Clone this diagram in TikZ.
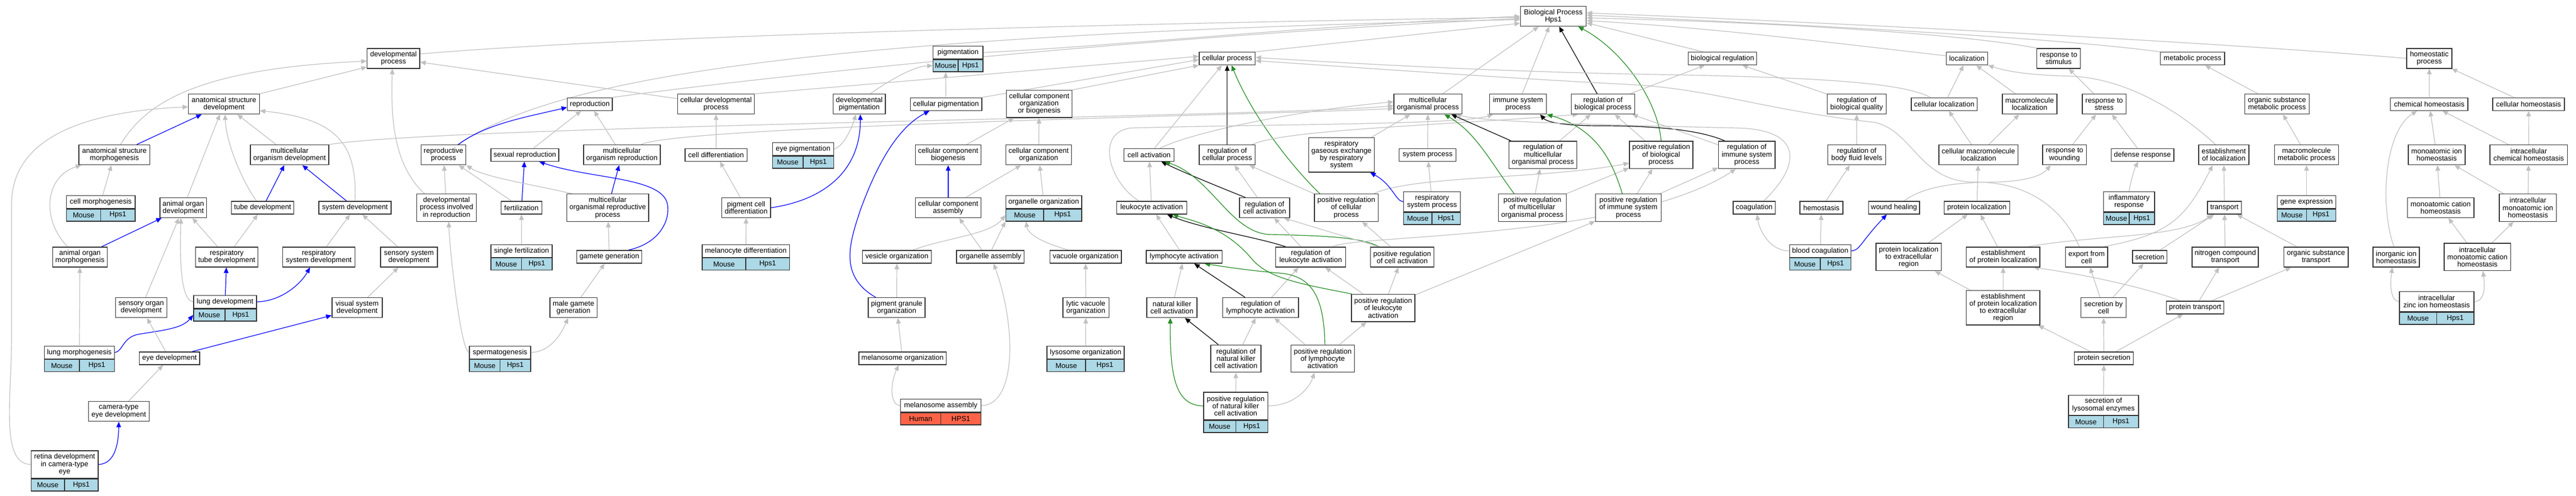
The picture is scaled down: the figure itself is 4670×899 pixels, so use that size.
\documentclass[tikz,border=0pt]{standalone}
\usepackage{fontspec}
\setmainfont{Liberation Sans}
\usetikzlibrary{arrows.meta, positioning, backgrounds}
\definecolor{isagray}{HTML}{C0C0C0}
\definecolor{posgreen}{HTML}{228B22}
\definecolor{mouseblue}{HTML}{ADD8E6}
\definecolor{humanred}{HTML}{FF6347}
\tikzset{
  term/.style={draw=black!80, line width=1.4pt, fill=white, align=center, inner sep=0pt,
    font=\fontsize{13}{13.2}\selectfont},
  h1/.style={minimum height=23pt},
  h2/.style={minimum height=36pt},
  h3/.style={minimum height=49.5pt},
  h4/.style={minimum height=62.5pt},
  gcell/.style={draw=black!80, line width=1.4pt, inner sep=0pt, minimum height=22pt,
    font=\fontsize{13}{13.2}\selectfont},
  isa/.style={draw=isagray, line width=1.2pt, -{Triangle[length=10pt,width=8.5pt]}},
  partof/.style={isa, draw=blue},
  reg/.style={isa, draw=black},
  posreg/.style={isa, draw=posgreen}
}
% term with a species / gene row below it
\newcommand{\gterm}[9]{%
  \node[term,#5,minimum width=#4] (#1) at (#2,#3) {#6};
  \node[gcell,fill=#7,minimum width=#4/2,anchor=north west] (#1-l) at (#1.south west) {#8};
  \node[gcell,fill=#7,minimum width=#4/2,anchor=north east] (#1-r) at (#1.south east) {#9};
}

\begin{document}
\begin{tikzpicture}[x=1pt,y=-1pt]
	\useasboundingbox (0,0) rectangle (4670,899);
	% top
	\node[term,h2,minimum width=119.4] (bp) at (2816,29.5) {Biological Process\\Hps1};
	\node[term,h2,minimum width=95.3] (devproc) at (713.3,105.8) {developmental\\process};
	\gterm{pigm}{1736.9}{95.2}{90.5}{h1}{pigmentation}{mouseblue}{Mouse}{Hps1}
	\node[term,h1,minimum width=101.4] (cellproc) at (2224.7,106.1) {cellular process};
	\node[term,h1,minimum width=124.3] (bioreg) at (3122.6,106.1) {biological regulation};
	\node[term,h1,minimum width=75] (loc) at (3565.7,106.1) {localization};
	\node[term,h2,minimum width=78.8] (respstim) at (3731.8,105.8) {response to\\stimulus};
	\node[term,h1,minimum width=116.4] (metab) at (3974.8,106.1) {metabolic process};
	\node[term,h2,minimum width=81.9] (homeo) at (4404,105.8) {homeostatic\\process};
	% second row
	\node[term,h2,minimum width=128.5] (asdev) at (406,188.7) {anatomical structure\\development};
	\node[term,h1,minimum width=81.5] (repro) at (1069.3,188.7) {reproduction};
	\node[term,h2,minimum width=139.3] (celldevproc) at (1298.1,188.7) {cellular developmental\\process};
	\node[term,h2,minimum width=94.9] (devpigm) at (1557.7,188.7) {developmental\\pigmentation};
	\node[term,h1,minimum width=129.6] (cellpigm) at (1715,188.7) {cellular pigmentation};
	\node[term,h3,minimum width=118.6] (ccob) at (1883.9,188.4) {cellular component\\organization\\or biogenesis};
	\node[term,h2,minimum width=123.2] (mop) at (2588.6,188.7) {multicellular\\organismal process};
	\node[term,h2,minimum width=103.3] (immsys) at (2752,188.7) {immune system\\process};
	\node[term,h2,minimum width=115] (regbp) at (2906,188.7) {regulation of\\biological process};
	\node[term,h2,minimum width=106.8] (regbq) at (3365.9,188.7) {regulation of\\biological quality};
	\node[term,h1,minimum width=119.6] (cellloc) at (3524.7,188.7) {cellular localization};
	\node[term,h2,minimum width=98.7] (macroloc) at (3679.4,188.7) {macromolecule\\localization};
	\node[term,h2,minimum width=79.3] (respstress) at (3814.6,188.7) {response to\\stress};
	\node[term,h2,minimum width=116.9] (osmp) at (4127.9,188.7) {organic substance\\metabolic process};
	\node[term,h1,minimum width=140.4] (chemhom) at (4403.9,188.7) {chemical homeostasis};
	\node[term,h1,minimum width=130.1] (cellhom) at (4584,188.7) {cellular homeostasis};
	% third row
	\node[term,h2,minimum width=128.6] (asmorph) at (207.4,280.7) {anatomical structure\\morphogenesis};
	\node[term,h2,minimum width=142] (mod) at (524.9,280.7) {multicellular\\organism development};
	\node[term,h2,minimum width=81.5] (reproproc) at (804,280.7) {reproductive\\process};
	\node[term,h1,minimum width=122.9] (sexrepro) at (951.5,280.7) {sexual reproduction};
	\node[term,h2,minimum width=139] (mor) at (1127.4,280.7) {multicellular\\organism reproduction};
	\node[term,h1,minimum width=112.5] (celldiff) at (1298.2,280.7) {cell differentiation};
	\gterm{eyepigm}{1455.8}{270.1}{111}{h1}{eye pigmentation}{mouseblue}{Mouse}{Hps1}
	\node[term,h2,minimum width=118.9] (ccbio) at (1718.9,280.7) {cellular component\\biogenesis};
	\node[term,h2,minimum width=119] (cco) at (1882.9,280.7) {cellular component\\organization};
	\node[term,h1,minimum width=91.1] (cellact) at (2083.2,280.7) {cell activation};
	\node[term,h2,minimum width=101.4] (regcp) at (2224.7,280.7) {regulation of\\cellular process};
	\node[term,h4,minimum width=119] (rge) at (2431.9,280.7) {respiratory\\gaseous exchange\\by respiratory\\system};
	\node[term,h1,minimum width=103] (sysproc) at (2588.1,280.7) {system process};
	\node[term,h3,minimum width=122.9] (regmop) at (2797,280.7) {regulation of\\multicellular\\organismal process};
	\node[term,h3,minimum width=114.8] (posregbp) at (3011.4,280.7) {positive regulation\\of biological\\process};
	\node[term,h3,minimum width=102.5] (regisp) at (3166.8,280.7) {regulation of\\immune system\\process};
	\node[term,h2,minimum width=104.5] (regbfl) at (3366,280.7) {regulation of\\body fluid levels};
	\node[term,h2,minimum width=143.5] (cellmacroloc) at (3586.6,280.7) {cellular macromolecule\\localization};
	\node[term,h2,minimum width=79.2] (respwound) at (3742.7,280.7) {response to\\wounding};
	\node[term,h1,minimum width=113.7] (defresp) at (3884,280.7) {defense response};
	\node[term,h2,minimum width=91.1] (estloc) at (4031.4,280.7) {establishment\\of localization};
	\node[term,h2,minimum width=116.3] (macromet) at (4181.4,280.7) {macromolecule\\metabolic process};
	\node[term,h2,minimum width=103] (monoion) at (4417.3,280.7) {monoatomic ion\\homeostasis};
	\node[term,h2,minimum width=140.5] (icchem) at (4584.2,280.7) {intracellular\\chemical homeostasis};
	% fourth row
	\gterm{cellmorph}{182.7}{365.9}{124.4}{h1}{cell morphogenesis}{mouseblue}{Mouse}{Hps1}
	\node[term,h2,minimum width=84.2] (aodev) at (332.2,376.5) {animal organ\\development};
	\node[term,h1,minimum width=113.3] (tubedev) at (476.1,376.5) {tube development};
	\node[term,h1,minimum width=131] (sysdev) at (643.5,376.5) {system development};
	\node[term,h3,minimum width=108.3] (dpir) at (809.5,376.5) {developmental\\process involved\\in reproduction};
	\node[term,h1,minimum width=73.8] (fert) at (945.3,376.5) {fertilization};
	\node[term,h3,minimum width=148.5] (morp) at (1101.7,376.5) {multicellular\\organismal reproductive\\process};
	\node[term,h2,minimum width=88.4] (pcdiff) at (1352.7,376.5) {pigment cell\\differentiation};
	\node[term,h2,minimum width=118.9] (ccassem) at (1718.9,376.5) {cellular component\\assembly};
	\gterm{orgorg}{1892.1}{365.9}{137.4}{h1}{organelle organization}{mouseblue}{Mouse}{Hps1}
	\node[term,h1,minimum width=127.1] (leukact) at (2087.8,376.5) {leukocyte activation};
	\node[term,h2,minimum width=90.7] (regca) at (2292.5,376.5) {regulation of\\cell activation};
	\node[term,h3,minimum width=115.2] (posregcp) at (2440.7,376.5) {positive regulation\\of cellular\\process};
	\gterm{rsp}{2596.1}{365.5}{103}{h2}{respiratory\\system process}{mouseblue}{Mouse}{Hps1}
	\node[term,h3,minimum width=122.8] (posregmop) at (2777.9,376.5) {positive regulation\\of multicellular\\organismal process};
	\node[term,h3,minimum width=118.9] (posregisp) at (2952,376.5) {positive regulation\\of immune system\\process};
	\node[term,h1,minimum width=76.5] (coag) at (3180.2,376.5) {coagulation};
	\node[term,h1,minimum width=77.7] (hemo) at (3302,376.5) {hemostasis};
	\node[term,h1,minimum width=92.6] (wound) at (3433.5,376.5) {wound healing};
	\node[term,h1,minimum width=119] (protloc) at (3583.9,376.5) {protein localization};
	\gterm{inflam}{3859.8}{365.5}{92.3}{h2}{inflammatory\\response}{mouseblue}{Mouse}{Hps1}
	\node[term,h1,minimum width=61.2] (transport) at (4032.6,376.5) {transport};
	\gterm{geneexp}{4181.4}{365.9}{105.6}{h1}{gene expression}{mouseblue}{Mouse}{Hps1}
	\node[term,h2,minimum width=120.5] (monocat) at (4424.6,376.5) {monoatomic cation\\homeostasis};
	\node[term,h3,minimum width=103.4] (icmonoion) at (4582.8,376.5) {intracellular\\monoatomic ion\\homeostasis};
	% fifth row
	\node[term,h2,minimum width=99.1] (aomorph) at (144.9,466) {animal organ\\morphogenesis};
	\node[term,h2,minimum width=113.3] (resptube) at (411,466) {respiratory\\tube development};
	\node[term,h2,minimum width=130.7] (respsysdev) at (578,466) {respiratory\\system development};
	\node[term,h2,minimum width=103] (senssysdev) at (741.3,466) {sensory system\\development};
	\gterm{singlefert}{945.5}{454.7}{111}{h1}{single fertilization}{mouseblue}{Mouse}{Hps1}
	\node[term,h1,minimum width=117.9] (gametegen) at (1104.7,465.6) {gamete generation};
	\gterm{melanodiff}{1352.1}{454.7}{158.4}{h1}{melanocyte differentiation}{mouseblue}{Mouse}{Hps1}
	\node[term,h1,minimum width=125.1] (vesorg) at (1626,465.6) {vesicle organization};
	\node[term,h1,minimum width=122.7] (orgassem) at (1795.4,465.6) {organelle assembly};
	\node[term,h1,minimum width=129.4] (vacorg) at (1968.1,465.6) {vacuole organization};
	\node[term,h1,minimum width=137.4] (lymphact) at (2146.6,465.6) {lymphocyte activation};
	\node[term,h2,minimum width=127] (regla) at (2376,466) {regulation of\\leukocyte activation};
	\node[term,h2,minimum width=114.8] (posregca) at (2542,466) {positive regulation\\of cell activation};
	\gterm{bloodcoag}{3299.9}{454.7}{111}{h1}{blood coagulation}{mouseblue}{Mouse}{Hps1}
	\node[term,h3,minimum width=118.4] (plter) at (3460.2,465.9) {protein localization\\to extracellular\\region};
	\node[term,h2,minimum width=133.5] (estprotloc) at (3631.4,466) {establishment\\of protein localization};
	\node[term,h2,minimum width=76.6] (export) at (3782.7,466) {export from\\cell};
	\node[term,h1,minimum width=62.7] (secretion) at (3897.2,465.6) {secretion};
	\node[term,h2,minimum width=120] (nitro) at (4034.1,466) {nitrogen compound\\transport};
	\node[term,h2,minimum width=116.4] (ostrans) at (4198.6,466) {organic substance\\transport};
	\node[term,h2,minimum width=84.2] (inorgion) at (4344,466) {inorganic ion\\homeostasis};
	\node[term,h3,minimum width=120.5] (icmonocat) at (4491.2,465.9) {intracellular\\monoatomic cation\\homeostasis};
	% sixth row
	\node[term,h2,minimum width=92.6] (sensorgdev) at (256,557.7) {sensory organ\\development};
	\gterm{lungdev}{408}{547.1}{114}{h1}{lung development}{mouseblue}{Mouse}{Hps1}
	\node[term,h2,minimum width=91.1] (vissysdev) at (647.4,557.7) {visual system\\development};
	\node[term,h2,minimum width=85.7] (malegam) at (1039.7,557.7) {male gamete\\generation};
	\node[term,h2,minimum width=102.9] (pgo) at (1625.6,557.7) {pigment granule\\organization};
	\node[term,h2,minimum width=83.4] (lvo) at (1968.5,557.7) {lytic vacuole\\organization};
	\node[term,h2,minimum width=91.1] (nkact) at (2124.6,557.7) {natural killer\\cell activation};
	\node[term,h2,minimum width=137.6] (regly) at (2285.3,557.7) {regulation of\\lymphocyte activation};
	\node[term,h3,minimum width=114.8] (posregla) at (2507.5,558.2) {positive regulation\\of leukocyte\\activation};
	\node[term,h4,minimum width=133.5] (epler) at (3631.4,557.7) {establishment\\of protein localization\\to extracellular\\region};
	\node[term,h2,minimum width=81.9] (secbycell) at (3813.4,557.7) {secretion by\\cell};
	\node[term,h1,minimum width=104.1] (prottrans) at (3979.5,557.3) {protein transport};
	\gterm{iczinc}{4417.3}{546.7}{135}{h2}{intracellular\\zinc ion homeostasis}{mouseblue}{Mouse}{Hps1}
	% seventh row
	\gterm{lungmorph}{143.9}{638.8}{127}{h1}{lung morphogenesis}{mouseblue}{Mouse}{Hps1}
	\node[term,h1,minimum width=109.4] (eyedev) at (307.3,649.4) {eye development};
	\gterm{spermato}{906.5}{638.8}{110.9}{h1}{spermatogenesis}{mouseblue}{Mouse}{Hps1}
	\node[term,h1,minimum width=158.4] (melorg) at (1636.1,649.4) {melanosome organization};
	\gterm{lysorg}{1968.1}{638.8}{140}{h1}{lysosome organization}{mouseblue}{Mouse}{Hps1}
	\node[term,h3,minimum width=91.1] (regnk) at (2240.6,650) {regulation of\\natural killer\\cell activation};
	\node[term,h3,minimum width=115.2] (posregly) at (2397.9,650) {positive regulation\\of lymphocyte\\activation};
	\node[term,h1,minimum width=107.2] (protsec) at (3814.1,649.4) {protein secretion};
	% bottom rows
	\node[term,h2,minimum width=109.9] (cameye) at (215.3,745.7) {camera-type\\eye development};
	\gterm{melassem}{1705.5}{735.1}{145.7}{h1}{melanosome assembly}{humanred}{Human}{HPS1}
	\gterm{posregnk}{2240.2}{735.75}{116.4}{h3}{positive regulation\\of natural killer\\cell activation}{mouseblue}{Mouse}{Hps1}
	\gterm{seclys}{3813.3}{734.2}{127.1}{h2}{secretion of\\lysosomal enzymes}{mouseblue}{Mouse}{Hps1}
	\gterm{retina}{117.1}{841.75}{121.7}{h3}{retina development\\in camera-type\\eye}{mouseblue}{Mouse}{Hps1}

	\begin{scope}[on background layer]
	\fill[white] (0,0) rectangle (4670,899);
	% development
	\draw[isa] (asdev.north east) -- ([yshift=3]devproc.south west);
	\draw[isa] ([xshift=11]asmorph.north) .. controls (260,195) and (340,125) .. ([yshift=-5]devproc.west);
	\draw[partof] (asmorph) -- (asdev);
	\draw[isa] (cellmorph) -- (asmorph);
	\draw[isa] (aodev) -- (asdev);
	\draw[isa] ([xshift=-11]tubedev.north) .. controls (440,330) and (410,260) .. ([xshift=2]asdev.south);
	\draw[isa] (mod) -- (asdev);
	\draw[isa] (mod.north east) .. controls (800,228) and (2300,212) .. ([yshift=-3]mop.west);
	\draw[partof] (tubedev) -- (mod);
	\draw[partof] (sysdev) -- (mod);
	\draw[isa] (sysdev.north) .. controls (648,260) and (610,215) .. ([yshift=-12]asdev.east);
	\draw[partof] (aomorph) -- (aodev);
	\draw[isa] ([xshift=-22]aomorph.north) .. controls (75,400) and (80,320) .. ([xshift=-60]asmorph.south);
	\draw[isa] (resptube) -- (aodev);
	\draw[isa] (resptube) -- (tubedev);
	\draw[isa] (respsysdev) -- (sysdev);
	\draw[isa] (senssysdev) -- (sysdev);
	\draw[isa] (sensorgdev) -- (aodev);
	\draw[isa] (lungdev.west) .. controls (325,545) and (326,450) .. ([xshift=-4]aodev.south);
	\draw[partof] (lungdev) -- (resptube);
	\draw[partof] (lungdev.east) .. controls (510,546) and (545,515) .. ([xshift=-16]respsysdev.south);
	\draw[isa] (lungmorph) -- (aomorph);
	\draw[partof] (lungmorph.east) .. controls (222,638) and (222,612) .. (250,606) .. controls (300,598) and (330,595) .. (lungdev-l.west);
	\draw[isa] (eyedev) -- (sensorgdev);
	\draw[partof] ([xshift=41]eyedev.north) -- ([yshift=-14]vissysdev.west);
	\draw[isa] (vissysdev) -- (senssysdev);
	\draw[isa] (cameye) -- (eyedev);
	\draw[partof] (retina.east) .. controls (210,841) and (215,800) .. (cameye.south);
	\draw[isa] (retina.west) .. controls (0,841) and (21,720) .. (21,610) -- (21,370) .. controls (21,230) and (200,200) .. ([yshift=-5]asdev.west);
	% reproduction
	\draw[isa] ([yshift=8]devproc.east) .. controls (1200,60) and (2300,38) .. ([yshift=-2]bp.west);
	\draw[isa] (celldevproc) -- (devproc);
	\draw[isa] (celldevproc.north east) -- ([yshift=4]cellproc.west);
	\draw[isa] ([xshift=-40]dpir.north) .. controls (715,300) and (708,220) .. ([xshift=-2]devproc.south);
	\draw[isa] (dpir) -- (reproproc);
	\draw[isa] ([xshift=25]reproproc.north) .. controls (1000,150) and (1400,65) .. ([yshift=-6]bp.west);
	\draw[partof] ([xshift=27]reproproc.north) .. controls (880,225) and (950,213) .. ([yshift=-6]repro.west);
	\draw[isa] (repro.north east) .. controls (1300,150) and (2000,70) .. ([yshift=-4]bp.west);
	\draw[isa] (sexrepro) -- (repro);
	\draw[isa] (mor) -- (repro);
	\draw[isa] ([xshift=35]mor.north) .. controls (1230,228) and (2300,208) .. ([yshift=-8]mop.west);
	\draw[partof] (fert) -- (sexrepro);
	\draw[isa] (fert) -- (reproproc);
	\draw[isa] (singlefert) -- (fert);
	\draw[isa] ([xshift=-65]morp.north) .. controls (970,335) and (880,322) .. (reproproc.south east);
	\draw[partof] (morp) -- (mor);
	\draw[isa] (gametegen) -- (morp);
	\draw[partof] ([xshift=34]gametegen.north) .. controls (1200,440) and (1215,395) .. (1210,370) .. controls (1200,320) and (1070,325) .. ([xshift=26]sexrepro.south);
	\draw[isa] (malegam) -- (gametegen);
	\draw[isa] (spermato.east) .. controls (1000,638) and (1020,600) .. ([xshift=-10]malegam.south);
	\draw[isa] (spermato.west) .. controls (835,636) and (815,450) .. ([xshift=4]dpir.south);
	% pigmentation, cellular component
	\draw[isa] (celldiff) -- (celldevproc);
	\draw[isa] (pcdiff) -- (celldiff);
	\draw[partof] (pcdiff.east) .. controls (1480,365) and (1560,320) .. ([xshift=2]devpigm.south);
	\draw[isa] (eyepigm.east) .. controls (1530,265) and (1545,230) .. ([xshift=-6]devpigm.south);
	\draw[isa] ([xshift=20]devpigm.north) .. controls (1620,140) and (1660,120) .. (pigm-l.west);
	\draw[isa] (pigm.east) .. controls (2000,85) and (2400,45) .. (bp.west);
	\draw[isa] (cellpigm) -- (pigm-l);
	\draw[isa] (cellpigm.north east) -- ([yshift=-2]cellproc.west);
	\draw[isa] (melanodiff) -- (pcdiff);
	\draw[isa] (ccbio) -- (ccob);
	\draw[partof] (ccassem) -- (ccbio);
	\draw[isa] (ccassem) -- (cco);
	\draw[isa] ([xshift=28]vesorg.north) .. controls (1720,430) and (1795,425) .. (orgorg-l.west);
	\draw[isa] ([xshift=2]orgassem.north) -- (orgorg-l.south west);
	\draw[isa] ([xshift=-15]orgassem.north) -- ([xshift=20]ccassem.south);
	\draw[isa] (orgorg) -- (cco);
	\draw[isa] ([xshift=-30]vacorg.north) .. controls (1890,440) and (1864,425) .. ([xshift=2]orgorg-l.south);
	\draw[isa] (lvo) -- (vacorg);
	\draw[isa] (lysorg) -- (lvo);
	\draw[isa] (pgo) -- (vesorg);
	\draw[partof] ([xshift=-38]pgo.north) .. controls (1520,500) and (1540,440) .. (1560,380) .. controls (1600,270) and (1640,225) .. ([xshift=-30]cellpigm.south);
	\draw[isa] (melorg) -- (pgo);
	\draw[isa] (melassem.west) .. controls (1615,735) and (1612,700) .. ([xshift=-7]melorg.south);
	\draw[isa] (melassem.east) .. controls (1840,735) and (1845,600) .. ([xshift=6]orgassem.south);
	\draw[isa] (ccob.north east) -- (cellproc.south west);
	\draw[isa] (cco) -- (ccob);
	% cell activation
	\draw[isa] (cellproc.north east) -- ([yshift=6]bp.south west);
	\draw[isa] (cellact) -- (cellproc);
	\draw[isa] ([xshift=20]cellact.north) .. controls (2160,240) and (2350,200) .. ([yshift=4]mop.west);
	\draw[reg] (regcp) -- (cellproc);
	\draw[posreg] ([xshift=-48]posregcp.north) .. controls (2340,300) and (2270,210) .. ([xshift=8]cellproc.south);
	\draw[isa] ([xshift=45]regcp.north) .. controls (2330,235) and (2600,228) .. ([xshift=-45]regbp.south);
	\draw[isa] (leukact) -- (cellact);
	\draw[isa] ([xshift=-23]leukact.north) .. controls (2010,330) and (1985,240) .. (2050,232) .. controls (2300,225) and (2650,226) .. ([xshift=-45]immsys.south);
	\draw[isa] (regca) -- (regcp);
	\draw[reg] ([xshift=-35]regca.north) .. controls (2200,335) and (2140,310) .. ([xshift=22]cellact.south);
	\draw[posreg] ([xshift=-42]posregca.north) .. controls (2470,430) and (2400,427) .. (2300,425) .. controls (2230,420) and (2195,320) .. ([xshift=28]cellact.south);
	\draw[isa] ([xshift=-42]posregca.north) -- ([xshift=35]regca.south);
	\draw[isa] (posregca) -- (posregcp);
	\draw[reg] ([xshift=-45]regla.north) .. controls (2280,430) and (2180,415) .. ([xshift=28]leukact.south);
	\draw[isa] (regla) -- (regca);
	\draw[isa] ([xshift=40]regla.north) .. controls (2450,425) and (2950,435) .. ([xshift=-20]regisp.south);
	\draw[isa] (lymphact) -- (leukact);
	\draw[isa] ([xshift=20]regly.north) -- ([xshift=-22]regla.south);
	\draw[reg] (regly) -- (lymphact);
	\draw[posreg] ([xshift=4]posregly.north) .. controls (2400,540) and (2380,500) .. (2320,495) .. controls (2260,490) and (2210,482) .. ([xshift=37]lymphact.south);
	\draw[posreg] ([xshift=-57]posregla.north) .. controls (2360,515) and (2300,505) .. (2270,470) .. controls (2220,410) and (2160,400) .. ([xshift=38]leukact.south);
	\draw[isa] (posregla) -- (regla);
	\draw[isa] (posregla) -- (posregca);
	\draw[isa] (posregla) -- (posregisp);
	\draw[isa] (nkact) -- (lymphact);
	\draw[reg] (regnk) -- (nkact);
	\draw[isa] (regnk) -- (regly);
	\draw[isa] (posregnk) -- (regnk);
	\draw[posreg] (posregnk.west) .. controls (2130,735) and (2121,680) .. ([xshift=-3]nkact.south);
	\draw[isa] (posregnk.east) .. controls (2350,735) and (2375,700) .. ([xshift=-15]posregly.south);
	\draw[isa] ([xshift=-32]posregly.north) -- ([xshift=25]regly.south);
	\draw[isa] (posregly) -- (posregla);
	% multicellular, immune, regulation
	\draw[isa] (posregcp.north west) -- ([xshift=40]regcp.south);
	\draw[isa] ([xshift=50]posregcp.north) .. controls (2560,318) and (2800,325) .. ([yshift=-15]posregbp.west);
	\draw[posreg] ([xshift=-33]posregmop.north) .. controls (2700,290) and (2675,240) .. ([xshift=30]mop.south);
	\draw[isa] (posregmop) -- (regmop);
	\draw[isa] (posregmop) -- (posregbp);
	\draw[reg] (regmop) -- (mop);
	\draw[isa] (regmop) -- (regbp);
	\draw[isa] (rge) -- (mop);
	\draw[isa] (sysproc) -- (mop);
	\draw[isa] (rsp) -- (sysproc);
	\draw[partof] (rsp.west) .. controls (2530,365) and (2525,335) .. ([xshift=52]rge.south);
	\draw[isa] (mop) -- (bp);
	\draw[isa] (immsys) -- (bp);
	\draw[reg] (regbp) -- (bp);
	\draw[posreg] (posregbp.north) .. controls (3005,180) and (2940,90) .. ([xshift=45]bp.south);
	\draw[isa] (posregbp) -- (regbp);
	\draw[reg] ([xshift=-40]regisp.north) .. controls (3080,235) and (3000,228) .. (2900,228) .. controls (2840,228) and (2805,222) .. ([xshift=40]immsys.south);
	\draw[isa] (regisp) -- (regbp);
	\draw[isa] (posregisp) -- (regisp);
	\draw[isa] (posregisp) -- (posregbp);
	\draw[posreg] ([xshift=-11]posregisp.north) .. controls (2925,300) and (2900,235) .. (immsys.south east);
	\draw[isa] ([xshift=-35]bioreg.north) -- ([yshift=-12]bp.east);
	\draw[isa] (regbp) -- (bioreg);
	\draw[isa] (regbq) -- (bioreg);
	\draw[isa] (regbfl) -- (regbq);
	\draw[isa] (hemo) -- (regbfl);
	\draw[isa] ([xshift=17]coag.north) .. controls (3265,300) and (3270,235) .. (3150,232) .. controls (2900,226) and (2700,222) .. ([xshift=50]mop.south);
	\draw[isa] (bloodcoag.west) .. controls (3210,455) and (3190,420) .. ([xshift=5]coag.south);
	\draw[isa] (bloodcoag) -- (hemo);
	\draw[partof] (bloodcoag.east) .. controls (3372,454) and (3372,440) .. ([xshift=-13]wound.south);
	\draw[isa] ([xshift=18]wound.north) .. controls (3490,335) and (3560,330) .. (3620,330) .. controls (3670,328) and (3700,320) .. ([xshift=-25]respwound.south);
	% localization, transport
	\draw[isa] (plter) -- (protloc);
	\draw[isa] (cellloc) -- (loc);
	\draw[isa] ([xshift=-25]cellloc.north) .. controls (3450,150) and (3300,140) .. (3000,135) .. controls (2700,130) and (2400,112) .. ([yshift=2]cellproc.east);
	\draw[isa] ([xshift=-13]export.north) .. controls (3740,380) and (3680,330) .. (3580,330) .. controls (3480,330) and (3470,240) .. (3400,222) .. controls (3200,200) and (3100,160) .. (2950,153) .. controls (2700,140) and (2400,118) .. ([yshift=-4]cellproc.east);
	\draw[isa] (macroloc) -- (loc);
	\draw[isa] (cellmacroloc) -- (cellloc);
	\draw[isa] (cellmacroloc) -- (macroloc);
	\draw[isa] (protloc) -- (cellmacroloc);
	\draw[isa] (estprotloc) -- (protloc);
	\draw[isa] (epler) -- (estprotloc);
	\draw[isa] (epler) -- (plter);
	\draw[isa] ([xshift=-15]estloc.north) .. controls (3950,200) and (3850,140) .. (3750,138) .. controls (3680,136) and (3640,130) .. (loc.south east);
	\draw[isa] ([xshift=45]estprotloc.north) .. controls (3800,425) and (3950,432) .. ([xshift=-22]transport.south);
	\draw[isa] ([xshift=30]export.north) .. controls (3930,425) and (3960,400) .. ([xshift=-20]estloc.south);
	\draw[isa] (transport) -- (estloc);
	\draw[isa] (secretion) -- (transport);
	\draw[isa] (nitro) -- (transport);
	\draw[isa] (ostrans) -- (transport);
	\draw[isa] (prottrans) -- (nitro);
	\draw[isa] ([xshift=-27]prottrans.north) .. controls (3870,515) and (3760,495) .. ([xshift=55]estprotloc.south);
	\draw[isa] ([xshift=30]prottrans.north) -- ([xshift=-45]ostrans.south);
	\draw[isa] (secbycell) -- (export);
	\draw[isa] (secbycell) -- (secretion);
	\draw[isa] (protsec) -- (epler);
	\draw[isa] (protsec) -- (secbycell);
	\draw[isa] (protsec) -- (prottrans);
	\draw[isa] (seclys) -- (protsec);
	% stimulus, metabolism, homeostasis
	\draw[isa] (respstim.north west) .. controls (3550,60) and (3200,40) .. ([yshift=-3]bp.east);
	\draw[isa] (respstress) -- (respstim);
	\draw[isa] (respwound) -- (respstress);
	\draw[isa] (defresp) -- (respstress);
	\draw[isa] (inflam.north) .. controls (3862,330) and (3870,305) .. ([xshift=-8]defresp.south);
	\draw[isa] ([yshift=5]loc.west) .. controls (3300,75) and (3100,50) .. ([yshift=-8]bp.east);
	\draw[isa] (metab.north west) .. controls (3700,65) and (3200,42) .. ([yshift=2]bp.east);
	\draw[isa] (osmp) -- (metab);
	\draw[isa] (macromet) -- (osmp);
	\draw[isa] (geneexp) -- (macromet);
	\draw[isa] (homeo.west) .. controls (4000,75) and (3300,40) .. ([yshift=6]bp.east);
	\draw[isa] (chemhom) -- (homeo);
	\draw[isa] (cellhom) -- (homeo);
	\draw[isa] (monoion) -- (chemhom);
	\draw[isa] (icchem) -- (chemhom);
	\draw[isa] (icchem) -- (cellhom);
	\draw[isa] (monocat) -- (monoion);
	\draw[isa] (icmonoion) -- (monoion);
	\draw[isa] (icmonoion) -- (icchem);
	\draw[isa] (icmonocat) -- (monocat);
	\draw[isa] (icmonocat) -- (icmonoion);
	\draw[isa] ([xshift=-4]inorgion.north) .. controls (4315,380) and (4320,240) .. ([xshift=-22]chemhom.south);
	\draw[isa] (iczinc.west) .. controls (4335,546) and (4332,520) .. ([xshift=-7]inorgion.south);
	\draw[isa] (iczinc.east) .. controls (4505,546) and (4505,520) .. ([xshift=10]icmonocat.south);
	\end{scope}
\end{tikzpicture}
\end{document}
